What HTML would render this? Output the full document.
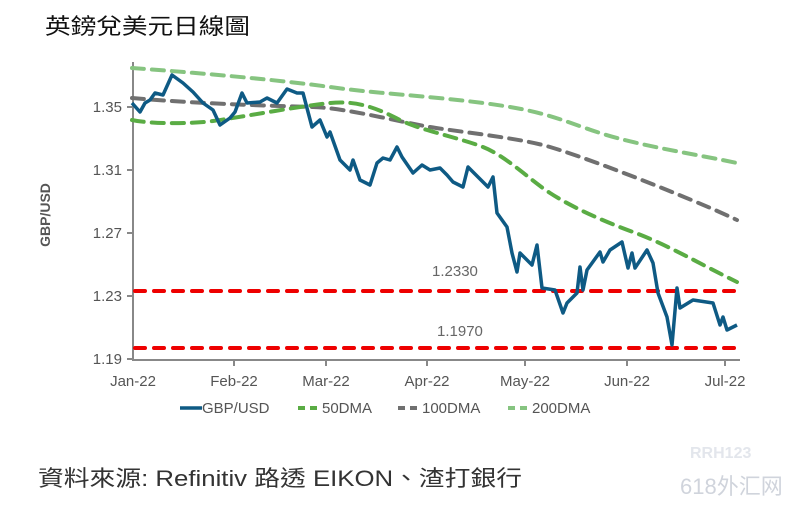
<!DOCTYPE html><html><head><meta charset="utf-8"><style>body{margin:0;background:#fff;width:811px;height:509px;overflow:hidden;font-family:"Liberation Sans","Noto Sans CJK TC",sans-serif}</style></head><body>
<svg width="811" height="509" xmlns="http://www.w3.org/2000/svg" font-family="Liberation Sans, Noto Sans CJK TC, sans-serif">
<text x="45" y="34" font-size="22" fill="#111" textLength="205" lengthAdjust="spacingAndGlyphs">英鎊兌美元日線圖</text>
<g stroke="#888" stroke-width="2" fill="none"><path d="M133 62V360H740"/><path d="M127 107h6M127 170h6M127 233h6M127 296h6M127 359h6M234 360v6M326 360v6M427 360v6M525 360v6M627 360v6M725 360v6"/></g>
<g font-size="15" fill="#555" text-anchor="end"><text x="122" y="112">1.35</text><text x="122" y="175">1.31</text><text x="122" y="238">1.27</text><text x="122" y="301">1.23</text><text x="122" y="364">1.19</text></g>
<g font-size="15" fill="#555" text-anchor="middle"><text x="133" y="386">Jan-22</text><text x="234" y="386">Feb-22</text><text x="326" y="386">Mar-22</text><text x="427" y="386">Apr-22</text><text x="525" y="386">May-22</text><text x="627" y="386">Jun-22</text><text x="725" y="386">Jul-22</text></g>
<text transform="translate(50,215) rotate(-90)" font-size="14" font-weight="bold" fill="#555" text-anchor="middle">GBP/USD</text>
<g fill="none" stroke-width="4" stroke-dasharray="12,8" stroke-linecap="round">
<path stroke="#e00" d="M135 291H738M135 348H738" stroke-dasharray="10,9"/>
<path stroke="#86c480" d="M132 68C200 73 280 80 330 87S420 95 483 103 560 120 600 133 700 155 737 163"/>
<path stroke="#707070" d="M132 98C200 104 280 106 313 107S400 122 430 127 520 138 550 147 630 175 667 190 720 212 737 220"/>
<path stroke="#5aac44" d="M132 120C150 124 190 124 213 121S300 106 330 103 380 110 400 120 460 138 483 147 530 180 550 193 600 220 633 232 700 264 737 282"/>
</g>
<path fill="none" stroke="#0e5a84" stroke-width="3.5" stroke-linejoin="round" d="M132 103L140 112 145 103 150 100 155 93 163 95 172 75 183 83 193 92 203 103 213 110 220 125 230 118 235 112 242 93 247 103 260 102 267 98 277 103 287 89 297 93 303 93 312 127 320 120 327 137 330 132 340 160 350 170 353 160 360 180 370 185 377 163 383 158 390 160 397 147 402 157 413 173 422 165 430 170 440 168 447 175 453 182 463 187 468 167 488 187 493 177 497 213 507 227 512 253 517 272 520 253 532 265 537 245 542 288 555 290 563 313 567 303 577 293 580 267 583 290 587 270 600 252 603 262 610 250 622 242 628 268 632 253 635 268 647 250 653 263 658 293 667 317 672 345 677 288 680 308 693 300 713 303 720 325 723 317 727 330 737 325"/>
<g font-size="15" fill="#666"><text x="432" y="276">1.2330</text><text x="437" y="336">1.1970</text></g>
<g font-size="15" fill="#555">
<path d="M180 408h22" stroke="#0e5a84" stroke-width="3.5"/><text x="202" y="413">GBP/USD</text>
<path d="M298 408h20" stroke="#5aac44" stroke-width="4" stroke-dasharray="7,5"/><text x="322" y="413">50DMA</text>
<path d="M398 408h20" stroke="#707070" stroke-width="4" stroke-dasharray="7,5"/><text x="422" y="413">100DMA</text>
<path d="M508 408h20" stroke="#86c480" stroke-width="4" stroke-dasharray="7,5"/><text x="532" y="413">200DMA</text>
</g>
<text x="38" y="486" font-size="22" fill="#333" textLength="484" lengthAdjust="spacingAndGlyphs">資料來源: Refinitiv 路透 EIKON、渣打銀行</text>
<text x="680" y="494" font-size="22" fill="#d0d4dc">618外汇网</text>
<text x="690" y="458" font-size="16" fill="#e3e6ec" font-weight="bold">RRH123</text>
</svg></body></html>
